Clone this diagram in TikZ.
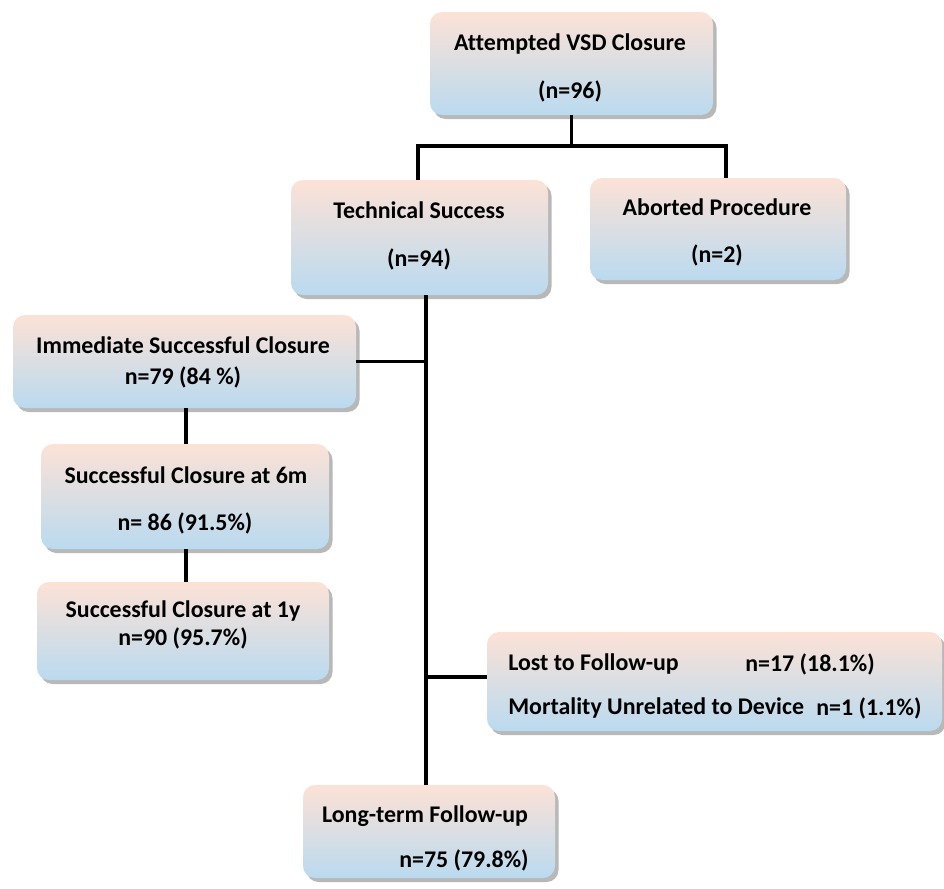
\documentclass[tikz,border=0pt]{standalone}
\usepackage{fontspec}
\setmainfont{Carlito}[Ligatures=NoCommon]
\usetikzlibrary{shadows,fit}
\definecolor{peach}{RGB}{252,226,214}
\definecolor{skyb}{RGB}{186,218,240}
\begin{document}
\begin{tikzpicture}[x=0.02cm,y=-0.02cm,
  box/.style={draw=none, rounded corners=0.24cm, top color=peach, bottom color=skyb,
    inner sep=0pt, outer sep=0pt,
    drop shadow={shadow xshift=0.07cm, shadow yshift=-0.08cm, fill=black, opacity=0.28}},
  txt/.style={font=\fontsize{13.6pt}{16pt}\selectfont\bfseries, inner sep=0pt, text=black},
  conn/.style={line width=2pt, draw=black}]
\useasboundingbox (0,0) rectangle (944,889);
% boxes
\node[box, fit={(430,12) (713,115)}] (att) {};
\node[box, fit={(291,180) (548,295)}] (tech) {};
\node[box, fit={(590,178) (846,280)}] (abort) {};
\node[box, fit={(13,315) (356,408)}] (imm) {};
\node[box, fit={(41,444) (329,549)}] (s6) {};
\node[box, fit={(37,582) (329,680)}] (s1) {};
\node[box, fit={(487,632) (942,731)}] (lost) {};
\node[box, fit={(303,785) (555,878)}] (long) {};
% texts
\node[txt] (att1) at (570,44) {Attempted VSD Closure};
\node[txt] (att2) at (570,91) {(n=96)};
\node[txt] (tech1) at (419,210) {Technical Success};
\node[txt] (tech2) at (419,259) {(n=94)};
\node[txt] (ab1) at (717,207) {Aborted Procedure};
\node[txt] (ab2) at (717,255) {(n=2)};
\node[txt] (imm1) at (183,345) {Immediate Successful Closure};
\node[txt] (imm2) at (183,377) {n=79 (84 \%)};
\node[txt] (s61) at (186,475) {Successful Closure at 6m};
\node[txt] (s62) at (185,523) {n= 86 (91.5\%)};
\node[txt] (s11) at (183,611) {Successful Closure at 1y};
\node[txt] (s12) at (183,638) {n=90 (95.7\%)};
\node[txt, anchor=west] (l1) at (508,664) {Lost to Follow-up};
\node[txt, anchor=west] (l2) at (745,664) {n=17 (18.1\%)};
\node[txt, anchor=west] (m1) at (508,708) {Mortality Unrelated to Device};
\node[txt, anchor=west] (m2) at (816,708) {n=1 (1.1\%)};
\node[txt] (lt1) at (425,816) {Long-term Follow-up};
\node[txt, anchor=east] (lt2) at (529,860) {n=75 (79.8\%)};
% connectors
\coordinate (jl) at (418,146);
\coordinate (jr) at (726,146);
\coordinate (tk) at (426,0);
\coordinate (cx) at (186,0);
\coordinate (lj) at (426,677);
\draw[conn] (att.south) -- (att.south |- jl);
\draw[conn] (tech.north -| jl) -- (jl) -- (jr) -- (jr |- abort.north);
\draw[conn] (tech.south -| tk) -- (long.north -| tk);
\draw[conn] (imm.east) -- (imm.east -| tk);
\draw[conn] (lj) -- (lj -| lost.west);
\draw[conn] (imm.south -| cx) -- (s6.north -| cx);
\draw[conn] (s6.south -| cx) -- (s1.north -| cx);
\end{tikzpicture}
\end{document}
